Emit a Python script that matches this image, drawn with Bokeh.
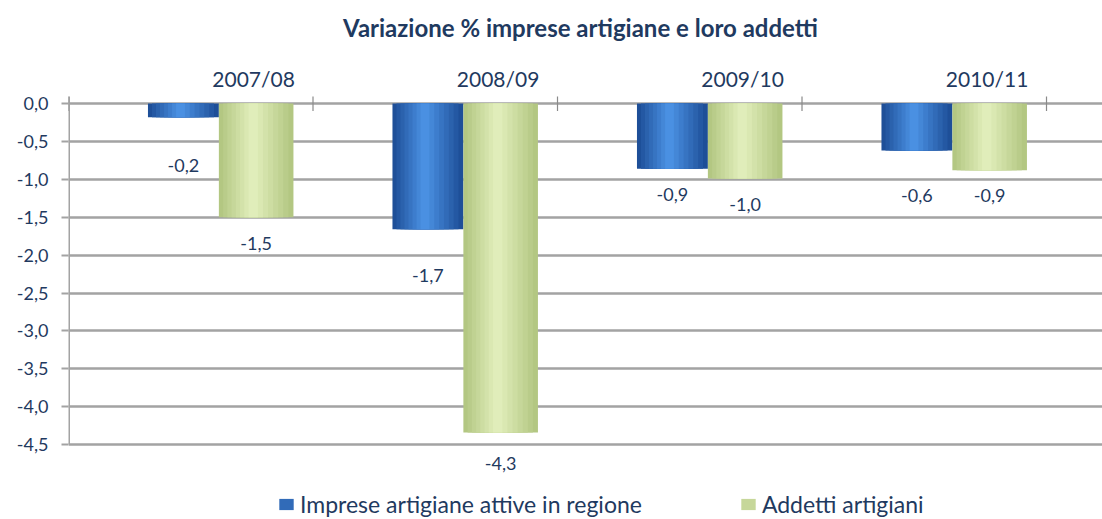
from bokeh.plotting import figure
from bokeh.models import (Range1d, FixedTicker, CustomJSTickFormatter,
                          Legend, LegendItem, ColumnDataSource, LabelSet)
from bokeh.core.properties import value
from bokeh.embed import file_html
from bokeh.resources import INLINE

# ---------------- data ----------------
categories = ["2007/08", "2008/09", "2009/10", "2010/11"]
imprese = [-0.18, -1.66, -0.86, -0.62]
addetti = [-1.50, -4.34, -0.99, -0.88]
y_ticks = [0.0, -0.5, -1.0, -1.5, -2.0, -2.5, -3.0, -3.5, -4.0, -4.5]
series_names = ["Imprese artigiane attive in regione", "Addetti artigiani"]
title_text = "Variazione % imprese artigiane e loro addetti"

# ---------------- style / placement ----------------
TXT = "#1F3A60"
FONT = "Lato"
GRID = "#a3a3a3"
blue_off, green_off = 0.47, 0.7675          # bar centre offsets inside a category slot
blue_w, green_w = 0.29, 0.305
label_dy_imprese = [-48, -46, -26, -45]     # px below bar end
label_dy_addetti = [-26, -31, -26, -25]
cat_label_off = 0.757
# the frame spans the whole figure height; the value axis occupies [-4.5, 0]
y_range_top, y_range_bottom = 1.359, -5.488
axis_top = 0.092
cat_label_y = 0.33
title_x, title_y = 2.094, 1.003
y_axis_min = min(y_ticks)

n = len(categories)
idx = list(range(n))
xb = [i + blue_off for i in idx]
xg = [i + green_off for i in idx]


def blend(c1, c2, t):
    a = [int(c1[i:i + 2], 16) for i in (1, 3, 5)]
    b = [int(c2[i:i + 2], 16) for i in (1, 3, 5)]
    return "#" + "".join(f"{round(x + (y - x) * t):02x}" for x, y in zip(a, b))


p = figure(width=1102, height=519, output_backend="svg", toolbar_location=None,
           x_range=Range1d(0, 4.229), y_range=Range1d(y_range_bottom, y_range_top),
           x_axis_location=None, min_border_left=68, min_border_right=0,
           min_border_top=0, min_border_bottom=0)
p.outline_line_color = None
p.background_fill_color = "white"
p.xgrid.grid_line_color = None

# y axis
p.yaxis.ticker = FixedTicker(ticks=y_ticks)
p.yaxis.formatter = CustomJSTickFormatter(code="return tick.toFixed(1).replace('.', ',');")
p.yaxis.major_label_text_font = FONT
p.yaxis.major_label_text_font_size = "18px"
p.yaxis.major_label_text_color = TXT
p.yaxis.axis_line_color = None
p.yaxis.major_tick_line_color = GRID
p.yaxis.major_tick_line_width = 2
p.yaxis.major_tick_out = 7
p.yaxis.major_tick_in = 0
p.yaxis.minor_tick_line_color = None
p.yaxis.major_label_standoff = 13
p.ygrid.ticker = FixedTicker(ticks=y_ticks)
p.ygrid.grid_line_color = GRID
p.ygrid.grid_line_width = 2.5

# visible part of the value axis line
p.segment(x0=[0], y0=[axis_top], x1=[0], y1=[y_axis_min], line_color=GRID, line_width=3)

# category boundary tick marks crossing the zero line
p.segment(x0=list(range(n + 1)), y0=[axis_top] * (n + 1), x1=list(range(n + 1)),
          y1=[-0.1] * (n + 1), line_color="#8a8a8a", line_width=1.2)

# category labels (top)
p.text(x=[i + cat_label_off for i in idx], y=[cat_label_y] * n, text=categories,
       text_align="center", text_baseline="middle", text_font=value(FONT),
       text_font_size=value("21px"), text_color=TXT)

# title
p.text(x=[title_x], y=[title_y], text=[title_text], text_align="center",
       text_baseline="middle", text_font=value(FONT), text_font_size=value("24px"),
       text_font_style="bold", text_color=TXT)

# bars with cylinder-like shading (nested layers)
layers = 8
blue_edge, blue_mid = "#1E4F98", "#4A90E2"
green_edge, green_mid = "#B3C782", "#E0EDBA"
leg_b = leg_g = None
for k in range(layers):
    frac = 1 - k / layers
    t = k / (layers - 1)
    shift = -0.012 * t
    r1 = p.vbar(x=[v + shift for v in xb], top=[0] * n, bottom=imprese, width=blue_w * frac,
                fill_color=blend(blue_edge, blue_mid, t), line_color=None)
    r2 = p.vbar(x=[v + shift for v in xg], top=[0] * n, bottom=addetti, width=green_w * frac,
                fill_color=blend(green_edge, green_mid, t), line_color=None)
    if k == 3:
        leg_b, leg_g = r1, r2

# value labels
fmt = lambda v: f"{v:.1f}".replace(".", ",")
src = ColumnDataSource(dict(
    x=xb + xg, y=imprese + addetti,
    t=[fmt(v) for v in imprese + addetti],
    dy=label_dy_imprese + label_dy_addetti))
p.add_layout(LabelSet(x="x", y="y", text="t", y_offset="dy", source=src,
                      text_align="center", text_baseline="middle",
                      text_font=value(FONT), text_font_size=value("18px"), text_color=TXT))

# legend (inside the frame, below the value axis)
legend = Legend(items=[LegendItem(label=series_names[0], renderers=[leg_b]),
                       LegendItem(label=series_names[1], renderers=[leg_g])],
                orientation="horizontal", location=(209, 1),
                label_text_font=FONT, label_text_font_size="23px", label_text_color=TXT,
                glyph_width=18, glyph_height=14, spacing=97, padding=0, margin=0,
                label_standoff=5, border_line_color=None, background_fill_alpha=0)
p.add_layout(legend, "center")

open("out.html", "w").write(file_html(p, INLINE))
